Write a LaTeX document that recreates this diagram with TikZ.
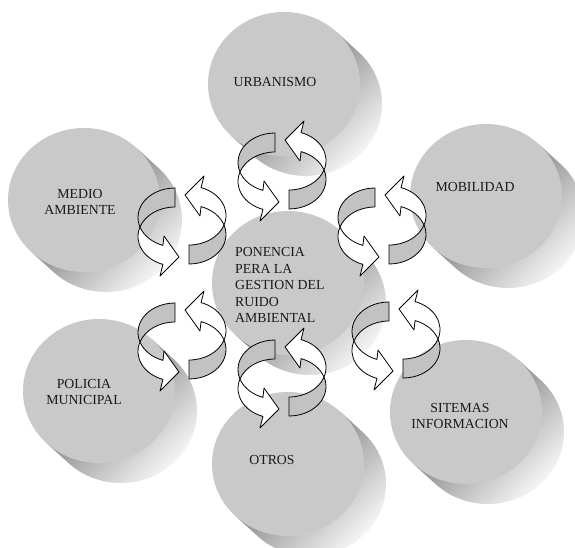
\documentclass[tikz,border=0pt]{standalone}
\usepackage{fontspec}
\setmainfont{Liberation Serif}
\usepackage{xcolor}
\definecolor{discface}{gray}{0.79}
\definecolor{discdark}{gray}{0.36}
\definecolor{disclight}{gray}{1}
\definecolor{bandback}{gray}{0.76}
\definecolor{inkgray}{gray}{0.1}
% one disc: face centred at (#1,#2), side pushed to the lower right
\newcommand{\drawdisc}[2]{%
  \shade[left color=discdark,right color=disclight,shading angle=45]
    ([shift={(#1,#2)}]313.8:76 and 72) -- ([shift={(#1+22,#2+20)}]313.8:76 and 72)
    arc[start angle=313.8,end angle=493.8,x radius=76,y radius=72]
    -- ([shift={(#1,#2)}]133.8:76 and 72) -- cycle;
  \fill[discface] (#1,#2) ellipse[x radius=76,y radius=72];}
\tikzset{
  pics/cycle/.style={code={
    \foreach \rot in {0,180}{
      \begin{scope}[rotate=\rot]
        \filldraw[backband] ([shift={(-7,-8.5)}]270:37 and 29.5)
          arc[start angle=270,end angle=161.2,x radius=37,y radius=29.5]
          -- ([shift={(-7,10.5)}]198.8:37 and 29.5)
          arc[start angle=198.8,end angle=270,x radius=37,y radius=29.5] -- cycle;
        \filldraw[frontband] ([shift={(-7,-8.5)}]161.2:37 and 29.5)
          arc[start angle=161.2,end angle=109,x radius=37,y radius=29.5]
          -- (-18,10) -- (-3,31) -- (-22,50)
          -- ([shift={(-7,10.5)}]109:37 and 29.5)
          arc[start angle=109,end angle=198.8,x radius=37,y radius=29.5] -- cycle;
      \end{scope}}}}}

\begin{document}
\begin{tikzpicture}[x=1pt,y=-1pt,
  backband/.style={fill=bandback,draw=black,line width=0.8pt,line join=round},
  frontband/.style={fill=white,draw=black,line width=0.8pt,line join=round},
  label/.style={font=\fontsize{13.8}{16.5}\selectfont,text=inkgray,align=center,inner sep=0pt}]
\useasboundingbox (0,0) rectangle (575,548);
\clip (0,0) rectangle (575,548);
\fill[white] (0,0) rectangle (575,548);

% discs
\drawdisc{284}{84}
\drawdisc{84}{200}
\drawdisc{486}{196}
\drawdisc{288}{283}
\drawdisc{99}{391}
\drawdisc{288}{464}
\drawdisc{466}{412}

\node[label] (urb) at (275,82) {URBANISMO};
\node[label] (medio) at (80,202) {MEDIO\\AMBIENTE};
\node[label] (mob) at (475,187) {MOBILIDAD};
\node[label,align=left,anchor=west] (ponencia) at (235,285)
  {PONENCIA\\PERA LA\\GESTION DEL\\RUIDO\\AMBIENTAL};
\node[label] (policia) at (84,392) {POLICIA\\MUNICIPAL};
\node[label] (otros) at (272,460) {OTROS};
\node[label] (sitemas) at (460,416) {SITEMAS\\INFORMACION};

% cycle arrows round the centre
\pic at (282,171) {cycle};
\pic at (182,226) {cycle};
\pic at (382,226) {cycle};
\pic at (182,341) {cycle};
\pic at (396,340) {cycle};
\pic at (282,378) {cycle};
\end{tikzpicture}
\end{document}
